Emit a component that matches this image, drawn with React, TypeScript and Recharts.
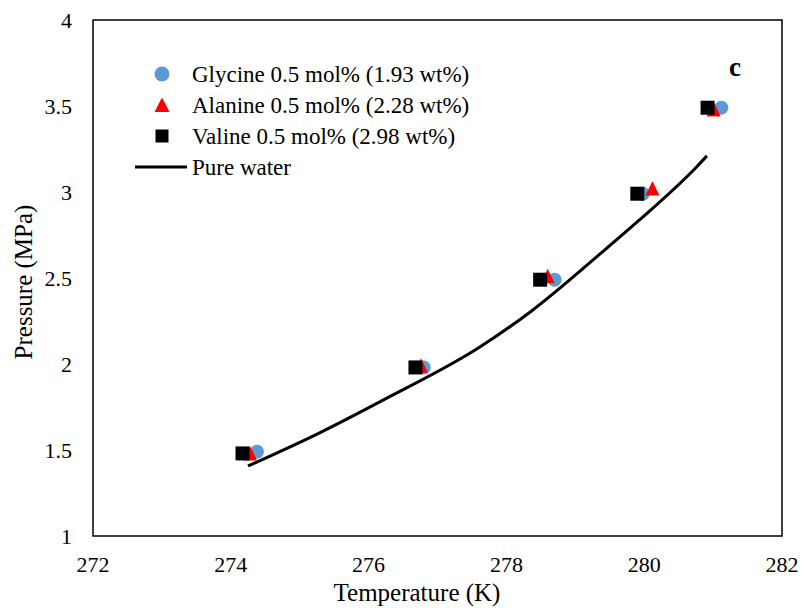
import React from 'react';
import { ComposedChart, Scatter, Line, XAxis, YAxis, Legend, ReferenceArea, Customized } from 'recharts';

// temperature (K) vs pressure (MPa)
const glycine = [
  { t: 274.38, p: 1.49 },
  { t: 276.8, p: 1.98 },
  { t: 278.7, p: 2.49 },
  { t: 279.98, p: 2.99 },
  { t: 281.12, p: 3.49 },
];
const alanine = [
  { t: 274.28, p: 1.48 },
  { t: 276.76, p: 1.99 },
  { t: 278.6, p: 2.51 },
  { t: 280.12, p: 3.02 },
  { t: 281.01, p: 3.48 },
];
const valine = [
  { t: 274.17, p: 1.48 },
  { t: 276.68, p: 1.98 },
  { t: 278.49, p: 2.49 },
  { t: 279.9, p: 2.99 },
  { t: 280.92, p: 3.49 },
];
const pureWater = [
  { t: 274.25, p: 1.407 },
  { t: 275.29, p: 1.6 },
  { t: 276.21, p: 1.79 },
  { t: 277.62, p: 2.1 },
  { t: 278.37, p: 2.31 },
  { t: 279.36, p: 2.64 },
  { t: 279.91, p: 2.83 },
  { t: 280.77, p: 3.15 },
  { t: 280.91, p: 3.21 },
];

const xTicks = [272, 274, 276, 278, 280, 282];
const yTicks = [1, 1.5, 2, 2.5, 3, 3.5, 4];

const FONT = '"Liberation Serif", "Times New Roman", serif';
const BLUE = '#5B9BD5';
const RED = '#FF0000';

const circleShape = (props: any) => <circle cx={props.cx} cy={props.cy} r={7} fill={BLUE} />;
const triangleShape = (props: any) => (
  <polygon
    points={`${props.cx},${props.cy - 7.5} ${props.cx - 7},${props.cy + 7} ${props.cx + 7},${props.cy + 7}`}
    fill={RED}
  />
);
const squareShape = (props: any) => <rect x={props.cx - 7} y={props.cy - 7} width={14} height={14} fill="#000" />;

const legendItems = [
  { name: 'Glycine 0.5 mol% (1.93 wt%)', kind: 'circle' },
  { name: 'Alanine 0.5 mol% (2.28 wt%)', kind: 'triangle' },
  { name: 'Valine 0.5 mol% (2.98 wt%)', kind: 'square' },
  { name: 'Pure water', kind: 'line' },
];

function renderLegend() {
  return (
    <svg width={400} height={125} style={{ display: 'block' }}>
      {legendItems.map((it, i) => {
        const cy = 16 + i * 31;
        let icon = null;
        if (it.kind === 'circle') icon = <circle cx={32} cy={cy} r={7.5} fill={BLUE} />;
        if (it.kind === 'triangle')
          icon = <polygon points={`32,${cy - 7.5} 24.5,${cy + 7} 39.5,${cy + 7}`} fill={RED} />;
        if (it.kind === 'square') icon = <rect x={25.5} y={cy - 6.5} width={13} height={13} fill="#000" />;
        if (it.kind === 'line') icon = <line x1={5} x2={57} y1={cy} y2={cy} stroke="#000" strokeWidth={3} />;
        return (
          <g key={it.name}>
            {icon}
            <text x={62} y={cy + 8} fontFamily={FONT} fontSize={23} fill="#000">
              {it.name}
            </text>
          </g>
        );
      })}
    </svg>
  );
}

export default function App() {
  return (
    <div style={{ position: 'absolute', left: 0, top: 0, width: 807, height: 608, background: '#fff' }}>
      <ComposedChart width={807} height={608} margin={{ top: 20, right: 25, bottom: 0, left: 0 }}>
        <XAxis
          dataKey="t"
          type="number"
          domain={[272, 282]}
          ticks={xTicks}
          allowDataOverflow
          axisLine={false}
          tickLine={false}
          tickSize={0}
          tickMargin={20}
          height={72}
          tick={{ fontSize: 22, fill: '#000', fontFamily: FONT }}
          label={(props: any) => (
            <text x={417} y={601} textAnchor="middle" fontFamily={FONT} fontSize={25} fill="#000">
              Temperature (K)
            </text>
          )}
        />
        <YAxis
          dataKey="p"
          type="number"
          domain={[1, 4]}
          ticks={yTicks}
          allowDataOverflow
          axisLine={false}
          tickLine={false}
          tickSize={0}
          tickMargin={21}
          width={93}
          tick={{ fontSize: 22, fill: '#000', fontFamily: FONT }}
          label={(props: any) => (
            <text
              x={23}
              y={282}
              transform="rotate(-90, 23, 282)"
              textAnchor="middle"
              dominantBaseline="central"
              fontFamily={FONT}
              fontSize={25}
              fill="#000"
            >
              Pressure (MPa)
            </text>
          )}
        />
        <ReferenceArea x1={272} x2={282} y1={1} y2={4} fill="none" stroke="#000" strokeWidth={1.5} />
        <Line
          data={pureWater}
          dataKey="p"
          type="monotone"
          stroke="#000"
          strokeWidth={3}
          dot={false}
          isAnimationActive={false}
          legendType="none"
        />
        <Scatter name="Glycine" data={glycine} shape={circleShape} isAnimationActive={false} />
        <Scatter name="Alanine" data={alanine} shape={triangleShape} isAnimationActive={false} />
        <Scatter name="Valine" data={valine} shape={squareShape} isAnimationActive={false} />
        <Legend
          layout="vertical"
          align="center"
          verticalAlign="middle"
          content={renderLegend}
          wrapperStyle={{ left: 130, top: 58, width: 400, height: 125 }}
        />
        <Customized
          component={() => (
            <text x={735} y={76} textAnchor="middle" fontFamily={FONT} fontSize={27} fontWeight="bold" fill="#000">
              c
            </text>
          )}
        />
      </ComposedChart>
    </div>
  );
}
